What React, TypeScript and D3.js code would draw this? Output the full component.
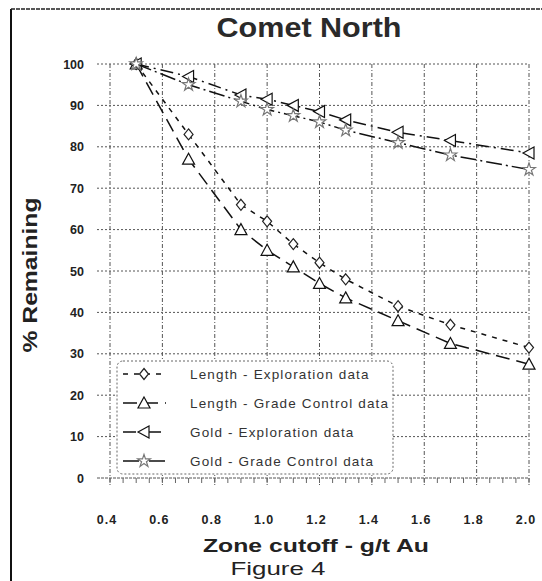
import React from 'react';
import * as d3 from 'd3';

const cutoffs = [0.5, 0.7, 0.9, 1.0, 1.1, 1.2, 1.3, 1.5, 1.7, 2.0];
const lengthExploration = [100, 83, 66, 62, 56.5, 52, 48, 41.5, 37, 31.5];
const lengthGradeControl = [100, 77, 60, 55, 51, 47, 43.5, 38, 32.5, 27.5];
const goldExploration = [100, 97, 92.5, 91.5, 90, 88.5, 86.5, 83.5, 81.5, 78.5];
const goldGradeControl = [100, 95, 91, 89, 87.5, 86, 84, 81, 78, 74.5];

const xTicks = [0.4, 0.6, 0.8, 1.0, 1.2, 1.4, 1.6, 1.8, 2.0];
const yTicks = [0, 10, 20, 30, 40, 50, 60, 70, 80, 90, 100];
const seriesNames = [
  'Length - Exploration data',
  'Length - Grade Control data',
  'Gold - Exploration data',
  'Gold - Grade Control data',
];

const W = 542;
const H = 581;
const font = '"Liberation Sans", Arial, sans-serif';

const x = d3.scaleLinear().domain([0.4, 2.0]).range([110, 529]);
const y = d3.scaleLinear().domain([0, 100]).range([478, 64]);

const line = d3.line<number>()
  .x((d, i) => x(cutoffs[i]))
  .y(d => y(d));

// marker shapes, drawn around 0,0
const diamond = 'M0,-5.5L4.5,0L0,5.5L-4.5,0Z';
const triUp = 'M0,-6L6,5L-6,5Z';
const triLeft = 'M-6,0L5,-6L5,6Z';
const star = d3.symbol(d3.symbolStar, 50)() as string;

const series = [
  { values: lengthExploration, dash: '5,6', marker: diamond, mstroke: '#222' },
  { values: lengthGradeControl, dash: '14,7', marker: triUp, mstroke: '#111' },
  { values: goldExploration, dash: '13,5,2,5', marker: triLeft, mstroke: '#111' },
  { values: goldGradeControl, dash: '16,4,2,4', marker: star, mstroke: '#777' },
];

const minorTicks = d3.range(0.4, 2.0001, 0.05);

export default function App() {
  return (
    <svg width={W} height={H} style={{ position: 'absolute', left: 0, top: 0, background: '#fff' }}
      fontFamily={font}>
      {/* frame */}
      <line x1={11} y1={9} x2={11} y2={H} stroke="#111" strokeWidth={2} />
      <line x1={11} y1={9} x2={W} y2={9} stroke="#222" strokeWidth={1.5} strokeDasharray="4,1" />

      {/* title */}
      <text x={309} y={37} textAnchor="middle" fontSize={28} fontWeight="bold" fill="#2a2a2a"
        textLength={185} lengthAdjust="spacingAndGlyphs">Comet North</text>

      {/* horizontal grid */}
      {yTicks.map(t => (
        <g key={'y' + t}>
          <line x1={97} x2={529} y1={y(t)} y2={y(t)} stroke="#555" strokeWidth={1}
            strokeDasharray={t === 0 ? '3,1' : '2,2'} />
          <text x={84} y={y(t) + 4.5} textAnchor="end" fontSize={12.5} fontWeight="bold" fill="#222">{t}</text>
        </g>
      ))}

      {/* vertical grid */}
      {xTicks.map(t => (
        <g key={'x' + t}>
          <line x1={x(t)} x2={x(t)} y1={y(100)} y2={y(0) + 8} stroke="#555" strokeWidth={1}
            strokeDasharray="4,2,1,2" />
          <text x={x(t) - 3} y={524} textAnchor="middle" fontSize={12.5} fontWeight="bold" fill="#222"
            letterSpacing={1}>{t.toFixed(1)}</text>
        </g>
      ))}
      {minorTicks.map((t, i) => (
        <line key={'m' + i} x1={x(t)} x2={x(t)} y1={y(0)} y2={y(0) + 5} stroke="#666" strokeWidth={1} />
      ))}

      {/* axis titles */}
      <text transform="translate(37,275) rotate(-90)" textAnchor="middle" fontSize={20} fontWeight="bold"
        fill="#222" textLength={155} lengthAdjust="spacingAndGlyphs">% Remaining</text>
      <text x={316} y={552} textAnchor="middle" fontSize={19} fontWeight="bold" fill="#222"
        textLength={226} lengthAdjust="spacingAndGlyphs">Zone cutoff - g/t Au</text>
      <text x={278} y={575} textAnchor="middle" fontSize={19} fill="#222"
        textLength={95} lengthAdjust="spacingAndGlyphs">Figure 4</text>

      {/* series */}
      {series.map((s, k) => (
        <g key={'s' + k}>
          <path d={line(s.values) as string} fill="none" stroke="#111" strokeWidth={1.5}
            strokeDasharray={s.dash} />
          {s.values.map((v, i) => (
            <path key={i} d={s.marker} transform={`translate(${x(cutoffs[i])},${y(v)})`}
              fill="#fff" stroke={s.mstroke} strokeWidth={1.2} />
          ))}
        </g>
      ))}

      {/* legend */}
      <rect x={117} y={361} width={276} height={113} rx={6} fill="#fff" stroke="#666"
        strokeWidth={1} strokeDasharray="2,2" />
      {seriesNames.map((name, k) => {
        const ly = 374 + k * 29;
        const s = series[k];
        return (
          <g key={'l' + k}>
            <line x1={123} x2={166} y1={ly} y2={ly} stroke="#111" strokeWidth={1.5} strokeDasharray={s.dash} />
            <path d={s.marker} transform={`translate(144,${ly})`} fill="#fff" stroke={s.mstroke} strokeWidth={1.2} />
            <text x={190} y={ly + 5} fontSize={13.5} fill="#333" letterSpacing={1.15}>{name}</text>
          </g>
        );
      })}
    </svg>
  );
}
